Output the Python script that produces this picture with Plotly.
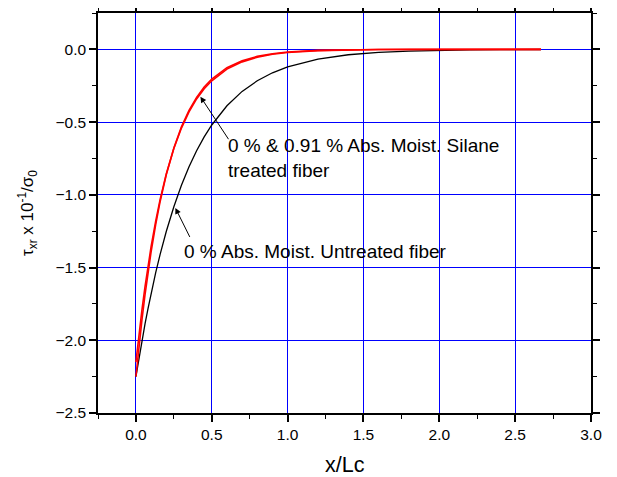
import plotly.graph_objects as go

# x/Lc sample positions
x_vals = [0, 0.01, 0.02, 0.04, 0.06, 0.08, 0.1, 0.13, 0.16, 0.2, 0.25, 0.3, 0.35,
          0.4, 0.45, 0.5, 0.6, 0.7, 0.8, 0.9, 1.0, 1.2, 1.4, 1.6, 1.8, 2.0, 2.2, 2.4, 2.67]

# 0 % Abs. Moist. Untreated fiber (black)
untreated = [-2.250, -2.185, -2.122, -2.001, -1.887, -1.780, -1.678, -1.537, -1.408,
             -1.252, -1.082, -0.934, -0.807, -0.697, -0.602, -0.520, -0.388, -0.289,
             -0.216, -0.161, -0.120, -0.067, -0.037, -0.021, -0.0115, -0.0064, -0.0036,
             -0.0020, -0.0009]

# 0 % Abs. Moist. Silane treated fiber (red)
silane_0 = [-2.250, -2.144, -2.044, -1.857, -1.687, -1.532, -1.392, -1.206, -1.044,
            -0.862, -0.678, -0.533, -0.419, -0.330, -0.259, -0.204, -0.126, -0.078,
            -0.048, -0.030, -0.018, -0.0071, -0.0027, -0.0010, -0.0004, -0.0001, 0.0,
            0.0, 0.0]

# 0.91 % Abs. Moist. Silane treated fiber (red)
silane_091 = [-2.150, -2.053, -1.961, -1.789, -1.631, -1.488, -1.357, -1.182, -1.030,
              -0.857, -0.681, -0.541, -0.430, -0.341, -0.271, -0.216, -0.136, -0.086,
              -0.054, -0.034, -0.022, -0.0086, -0.0034, -0.0014, -0.0005, -0.0002,
              -0.0001, 0.0, 0.0]

x_title = "x/Lc"
y_title = "τ<sub>xr</sub> x 10<sup>-1</sup>/σ<sub>0</sub>"
label_silane = "0 % & 0.91 % Abs. Moist. Silane<br>treated fiber"
label_untreated = "0 % Abs. Moist. Untreated fiber"

FONT = "Liberation Sans, Arial, sans-serif"

fig = go.Figure()
fig.add_trace(go.Scatter(x=x_vals, y=untreated, mode="lines",
                         line=dict(color="black", width=1.3), showlegend=False))
fig.add_trace(go.Scatter(x=x_vals, y=silane_0, mode="lines",
                         line=dict(color="red", width=1.6), showlegend=False))
fig.add_trace(go.Scatter(x=x_vals, y=silane_091, mode="lines",
                         line=dict(color="red", width=1.6), showlegend=False))

# arrows
fig.add_annotation(x=0.425, y=-0.325, ax=0.617, ay=-0.628, xref="x", yref="y",
                   axref="x", ayref="y", text="", showarrow=True, arrowhead=2,
                   arrowsize=1.2, arrowwidth=1, arrowcolor="black")
fig.add_annotation(x=0.26, y=-1.09, ax=0.36, ay=-1.30, xref="x", yref="y",
                   axref="x", ayref="y", text="", showarrow=True, arrowhead=2,
                   arrowsize=1.2, arrowwidth=1, arrowcolor="black")
# labels
fig.add_annotation(x=0.597, y=-0.747, xref="x", yref="y", xanchor="left", yanchor="middle",
                   align="left", showarrow=False, text=label_silane,
                   font=dict(family=FONT, size=19, color="black"))
fig.add_annotation(x=0.307, y=-1.39, xref="x", yref="y", xanchor="left", yanchor="middle",
                   align="left", showarrow=False, text=label_untreated,
                   font=dict(family=FONT, size=19, color="black"))
# axis titles
fig.add_annotation(x=0.5, y=-0.13, xref="paper", yref="paper", xanchor="center",
                   yanchor="middle", showarrow=False, text=x_title,
                   font=dict(family=FONT, size=21.5, color="black"))
fig.add_annotation(x=-0.144, y=0.5, xref="paper", yref="paper", xanchor="center",
                   yanchor="middle", showarrow=False, text=y_title, textangle=-90,
                   font=dict(family=FONT, size=17, color="black"))

axis_common = dict(showline=True, linecolor="black", linewidth=1.5, mirror="ticks",
                   ticks="outside", ticklen=7, tickwidth=1.5, tickcolor="black",
                   showgrid=True, gridcolor="rgb(0,0,255)", gridwidth=1.1,
                   zeroline=False, automargin=False,
                   tickfont=dict(family=FONT, size=15.5, color="black"))

fig.update_xaxes(range=[-0.25, 3.0], dtick=0.5, tick0=0, tickformat=".1f",
                 minor=dict(ticks="outside", ticklen=4, tickwidth=1.2, tickcolor="black",
                            dtick=0.25, tick0=0, showgrid=False),
                 **axis_common)
fig.update_yaxes(range=[-2.5, 0.25], dtick=0.5, tick0=0, tickformat=".1f",
                 minor=dict(ticks="outside", ticklen=4, tickwidth=1.2, tickcolor="black",
                            dtick=0.25, tick0=0, showgrid=False),
                 **axis_common)

fig.update_layout(width=609, height=469, plot_bgcolor="white", paper_bgcolor="white",
                  margin=dict(l=90, r=26, t=5, b=64), showlegend=False)

fig.write_html("out.html")
